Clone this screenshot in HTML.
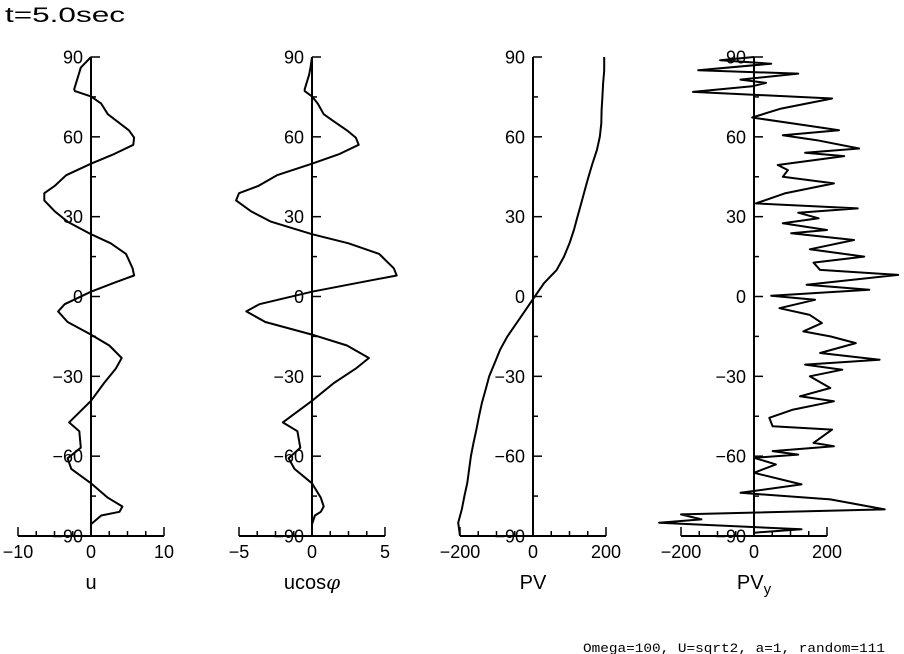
<!DOCTYPE html>
<html><head><meta charset="utf-8"><style>
html,body{margin:0;padding:0;background:#fff;}
svg{display:block;font-family:"Liberation Sans",sans-serif;}
</style></head><body>
<svg id="chart" width="904" height="654" viewBox="0 0 904 654">
<text x="5" y="22" font-size="21" textLength="120" lengthAdjust="spacingAndGlyphs">t=5.0sec</text>
<text x="583" y="652" font-size="13" font-family="'Liberation Mono',monospace" textLength="302" lengthAdjust="spacingAndGlyphs">Omega=100, U=sqrt2, a=1, random=111</text>
</svg>
<script>
const latTicks = [90, 60, 30, 0, -30, -60, -90];
const uLat = [90,86,83.3,77.9,77.2,75.2,72.5,68.5,65.8,62.4,59.7,57,53.6,49.9,45.6,41.5,38.8,36.1,32.1,28.1,23.4,20,16,10.6,7.9,5.2,1.8,-2.9,-5.6,-9.6,-14.3,-18.4,-23.1,-27.1,-32.5,-39.2,-47.3,-50.6,-56.8,-60.8,-64.8,-70.2,-75.6,-78.9,-80.9,-82.3,-85.6,-90];
const uVal = [0,-1.4,-1.7,-2.3,-2.2,0,1.4,2.3,3.6,5.2,5.9,5.8,3.2,0,-3.4,-5,-6.4,-6.4,-5,-3.2,0,2.7,4.8,5.7,5.9,3.2,0,-3.6,-4.5,-3.2,0,2.5,4.2,3.4,1.8,0,-3,-1.6,-1.4,-3.2,-2.7,0,2.3,4.3,3.9,1.4,0,0];
const ucosVal = [0,-0.1,-0.2,-0.5,-0.5,0,0.4,0.8,1.5,2.4,3,3.2,1.9,0,-2.4,-3.7,-5,-5.2,-4.2,-2.8,0,2.5,4.6,5.6,5.8,3.2,0,-3.6,-4.5,-3.2,0,2.4,3.9,3,1.5,0,-2,-1,-0.8,-1.6,-1.2,0,0.6,0.8,0.6,0.2,0,0];
const pvLat = [90,85,80,75,70,65,60,55,50,45,40,35,30,25,20,15,10,5,0,-5,-10,-15,-20,-25,-30,-35,-40,-45,-50,-55,-60,-65,-70,-75,-80,-85,-90];
const pvVal = [195,195,192,190,188,187,183,175,163,152,142,132,122,112,100,85,65,30,5,-20,-45,-70,-90,-105,-120,-130,-140,-148,-155,-163,-170,-175,-180,-188,-195,-205,-200];
const pvyLat = [90,88.75,87.5,85,83.75,81.5,80.25,79,76.9,74.4,70.6,67.25,62.5,60.6,58.75,55.6,54,52.75,49.4,47.5,45,42.5,38.75,35,33.1,31.5,29.4,27.5,25,23.75,21.25,17.75,15,12.75,10,8.1,4.4,2.5,0.25,-1.25,-4.4,-6.9,-10,-13.1,-15,-17.5,-21.25,-23.75,-25.6,-27.5,-30,-34.4,-37.5,-39.4,-42.5,-45.6,-48.75,-50,-55,-56.25,-58.1,-59.4,-60.6,-63.1,-66.25,-70.6,-73.75,-76.25,-80,-81.9,-83.75,-85,-87.5,-88.75,-90];
const pvyVal = [0,-93,47,-153,121,-37,33,-5,-167,214,74,-5,233,79,172,288,140,247,65,93,79,219,84,5,284,121,177,79,200,102,274,153,302,163,181,395,144,316,47,167,70,153,186,135,209,279,181,344,140,242,153,209,126,219,107,42,51,214,163,219,51,121,0,60,0,130,-37,209,358,-200,-144,-260,130,0,0];

const NS = "http://www.w3.org/2000/svg";
const svg = document.getElementById('chart');
const Y0 = 57, Y1 = 536;
function yScale(lat){ return Y0 + (90 - lat) * (Y1 - Y0) / 180; }
function mk(tag, attrs, parent){
  const e = document.createElementNS(NS, tag);
  for (const k in attrs) e.setAttribute(k, attrs[k]);
  (parent || svg).appendChild(e);
  return e;
}
const panels = [
  {name:'u', x0:91, xmin:-10, xmax:10, major:10, lat:uLat, val:uVal, title:'u'},
  {name:'ucos', x0:312, xmin:-5, xmax:5, major:5, lat:uLat, val:ucosVal, title:'ucos'},
  {name:'pv', x0:533, xmin:-200, xmax:200, major:200, lat:pvLat, val:pvVal, title:'PV'},
  {name:'pvy', x0:754, xmin:-200, xmax:200, major:200, lat:pvyLat, val:pvyVal, title:'PV'}
];
const halfW = 73;
panels.forEach(p => {
  const g = mk('g', {});
  
  
  const xs = v => p.x0 + v * halfW / p.major;
  const va = mk('line', {x1:p.x0, y1:Y0, x2:p.x0, y2:Y1, stroke:'#000', 'stroke-width':2}, g);
  
  
  for (let lat = 90; lat >= -90; lat -= 15) {
    const y = yScale(lat);
    const isMaj = lat % 30 === 0;
    mk('line', {x1:p.x0, y1:y, x2:p.x0 + (isMaj ? 9 : 5), y2:y, stroke:'#000', 'stroke-width':1.5}, g);
  }
  latTicks.forEach(t => {
    const tl = mk('text', {x:p.x0 - 8, y:yScale(t) + 6.5, 'font-size':18, 'text-anchor':'end'}, g);
    
    
    tl.textContent = t === 0 ? '0' : (t < 0 ? '\u2212' + (-t) : String(t));
  });
  const ha = mk('line', {x1:xs(p.xmin), y1:Y1, x2:xs(p.xmax), y2:Y1, stroke:'#000', 'stroke-width':2}, g);
  
  
  const step = p.major / 4;
  for (let v = p.xmin; v <= p.xmax + 1e-9; v += step) {
    const isMaj = Math.abs(v / p.major - Math.round(v / p.major)) < 1e-9;
    mk('line', {x1:xs(v), y1:Y1, x2:xs(v), y2:Y1 - (isMaj ? 9 : 5), stroke:'#000', 'stroke-width':1.5}, g);
  }
  [p.xmin, 0, p.xmax].forEach(v => {
    const tl = mk('text', {x:xs(v), y:558, 'font-size':18, 'text-anchor':'middle'}, g);
    
    
    tl.textContent = v === 0 ? '0' : (v < 0 ? '\u2212' + (-v) : String(v));
  });
  const tt = mk('text', {x:p.x0, y:589, 'font-size':20, 'text-anchor':'middle'}, g);
  
  
  tt.textContent = p.title;
  if (p.name === 'ucos') {
    const ph = mk('tspan', {'font-style':'italic', 'font-family':'"DejaVu Serif",serif'}, tt);
    ph.textContent = '\u03C6';
  }
  if (p.name === 'pvy') {
    const sb = mk('tspan', {'font-size':15, dy:5}, tt);
    sb.textContent = 'y';
  }
  let d = '';
  p.val.forEach((v, i) => { d += (i ? 'L' : 'M') + xs(v).toFixed(1) + ' ' + yScale(p.lat[i]).toFixed(1); });
  const path = mk('path', {d:d, fill:'none', stroke:'#000', 'stroke-width':2, 'stroke-linejoin':'round'}, g);
  
  
});
</script>
</body></html>
